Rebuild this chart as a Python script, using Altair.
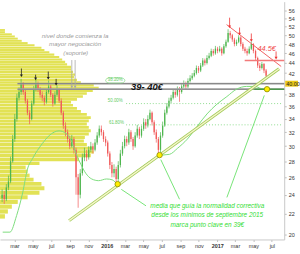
import altair as alt
import pandas as pd

# ---------------- data ----------------
week_start = "2015-01-19"
first_open = 23.6
closes = [24.0, 23.5, 24.8, 25.5, 28.0, 31.0, 34.0, 37.5, 38.5, 40.0,
          38.5, 37.0, 35.0, 34.0, 36.5, 39.0, 40.0, 39.0, 38.0, 37.5,
          36.8, 38.5, 39.5, 38.0, 36.5, 38.0, 39.0, 37.0, 35.0, 33.0,
          32.0, 31.0, 30.0, 31.0, 29.5, 26.0, 24.0, 26.5, 28.5, 29.0,
          28.5, 29.5, 30.0, 29.5, 30.5, 31.5, 32.5, 32.0, 31.0, 30.5,
          29.0, 27.5, 26.5, 27.0, 25.8, 27.5, 29.0, 30.0, 31.0, 30.5,
          32.0, 31.0, 30.0, 31.5, 32.5, 31.5, 32.5, 33.5, 33.0, 34.0,
          35.0, 33.5, 32.0, 31.0, 29.5, 31.5, 33.0, 35.0, 36.0, 37.0,
          37.5, 38.5, 38.0, 39.0, 38.5, 39.5, 40.0, 39.5, 40.5, 41.0,
          41.5, 42.0, 43.0, 42.5, 43.5, 44.5, 44.0, 45.0, 45.5, 46.5,
          46.0, 47.0, 46.5, 47.0, 46.0, 47.5, 48.5, 50.5, 50.0, 49.0,
          48.0, 48.5, 49.5, 48.0, 47.0, 46.5, 46.0, 47.0, 48.0, 46.5,
          45.0, 43.5, 43.0, 43.8, 42.5, 41.5]
highs = [24.6, 24.4, 25.2, 26.2, 28.6, 31.6, 34.8, 38.2, 39.3, 40.9,
         40.3, 38.9, 37.3, 35.4, 37.0, 39.6, 40.9, 40.4, 39.4, 38.6,
         37.9, 39.0, 40.6, 39.8, 38.3, 38.6, 39.7, 39.2, 37.4, 35.3,
         33.5, 32.4, 31.5, 31.6, 31.3, 29.8, 26.4, 27.0, 29.0, 29.8,
         29.5, 30.0, 30.6, 30.4, 31.0, 32.0, 33.0, 33.0, 32.3, 31.4,
         30.8, 29.3, 27.9, 27.6, 27.3, 28.0, 29.5, 30.6, 31.5, 31.4,
         32.5, 32.3, 31.3, 32.0, 33.1, 32.8, 33.0, 34.1, 34.0, 34.6,
         35.5, 35.2, 33.8, 32.4, 31.3, 32.0, 33.6, 35.5, 36.6, 37.5,
         38.0, 39.0, 38.9, 39.5, 39.4, 40.0, 40.6, 40.4, 41.0, 41.6,
         42.0, 42.6, 43.5, 43.4, 44.0, 45.0, 44.9, 45.6, 46.1, 47.0,
         46.9, 47.6, 47.4, 47.6, 47.3, 48.0, 49.0, 51.4, 51.0, 50.3,
         49.4, 49.0, 50.0, 49.8, 48.4, 47.4, 47.0, 47.5, 48.6, 48.2,
         46.8, 45.3, 44.0, 44.2, 44.0, 42.8]
lows = [23.2, 23.0, 23.3, 24.5, 25.3, 27.8, 30.6, 33.6, 37.0, 38.0,
        38.0, 36.5, 34.6, 33.2, 33.8, 36.2, 38.6, 38.5, 37.5, 36.9,
        36.2, 36.5, 38.2, 37.6, 36.0, 36.3, 37.7, 36.6, 34.6, 32.5,
        31.4, 30.5, 29.6, 29.8, 29.0, 24.0, 22.6, 23.6, 26.2, 28.0,
        28.0, 28.2, 29.2, 29.0, 29.3, 30.2, 31.2, 31.5, 30.6, 30.0,
        28.6, 27.0, 26.0, 26.0, 25.0, 25.5, 27.2, 28.7, 29.7, 30.0,
        30.2, 30.6, 29.5, 29.8, 31.2, 31.0, 31.2, 32.2, 32.5, 32.7,
        33.8, 33.0, 31.6, 30.5, 28.5, 29.2, 31.2, 32.8, 34.7, 35.7,
        36.6, 37.2, 37.5, 37.7, 36.8, 38.2, 39.2, 39.0, 39.2, 40.2,
        40.7, 41.2, 41.7, 42.0, 42.2, 43.2, 43.5, 43.7, 44.7, 45.2,
        45.5, 45.7, 46.0, 46.2, 45.5, 45.8, 47.2, 48.3, 49.3, 48.5,
        47.5, 47.6, 48.2, 47.5, 46.5, 46.0, 45.5, 45.8, 46.7, 46.0,
        44.5, 43.0, 42.4, 42.7, 42.0, 40.8]

# volume profile (price bin low edge, relative volume)
profile_price = [21.5, 22.0, 22.5, 23.0, 23.5, 24.0, 24.5, 25.0, 25.5, 26.0,
                 26.5, 27.0, 27.5, 28.0, 28.5, 29.0, 29.5, 30.0, 30.5, 31.0,
                 31.5, 32.0, 32.5, 33.0, 33.5, 34.0, 34.5, 35.0, 35.5, 36.0,
                 36.5, 37.0, 37.5, 38.0, 38.5, 39.0, 39.5, 40.0, 40.5, 41.0,
                 41.5, 42.0, 42.5, 43.0, 43.5, 44.0, 44.5, 45.0, 45.5, 46.0,
                 46.5, 47.0, 47.5, 48.0, 48.5, 49.0, 49.5, 50.0, 50.5, 51.0]
profile_vol = [5, 8, 12, 18, 28, 40, 45, 42, 34, 30,
               28, 26, 40, 80, 92, 95, 94, 88, 85, 86,
               90, 92, 90, 88, 90, 92, 88, 82, 78, 74,
               72, 78, 84, 88, 94, 100, 95, 82, 78, 75,
               76, 74, 72, 72, 68, 66, 63, 60, 55, 50,
               45, 42, 35, 28, 22, 18, 15, 12, 5, 5]

# moving average ("media")
ma_dates = ["2015-01-21", "2015-02-14", "2015-03-08", "2015-03-28", "2015-04-13",
            "2015-04-30", "2015-06-01", "2015-06-24", "2015-07-27", "2015-08-19",
            "2015-09-04", "2015-09-21", "2015-10-07", "2015-10-23", "2015-11-12",
            "2015-12-05", "2015-12-31", "2016-01-19", "2016-02-08", "2016-03-12",
            "2016-04-13", "2016-05-16", "2016-06-11", "2016-07-04", "2016-07-27",
            "2016-08-22", "2016-09-24", "2016-10-27", "2016-11-28", "2016-12-31",
            "2017-02-02", "2017-03-06", "2017-04-08", "2017-05-04", "2017-05-27",
            "2017-06-13"]
ma_values = [20.2, 20.2, 21.8, 24.2, 27.0, 28.35, 30.35, 31.5, 32.2, 31.8,
             30.9, 29.0, 27.6, 26.5, 25.8, 25.6, 25.8, 25.7, 25.2, 26.0,
             26.9, 27.8, 28.5, 28.8, 28.9, 29.7, 31.0, 32.9, 34.8, 36.4,
             37.7, 39.0, 39.5, 39.5, 39.1, 38.8]

y_ticks = [20, 22, 24, 26, 28, 30, 32, 34, 36, 38, 42, 44, 46, 48, 50, 52, 54, 56]
current_price = 40.0
fib_labels = ["38.20%", "50.00%", "61.80%"]
fib_dates = ["2016-01-29", "2016-01-29", "2016-02-02"]
fib_prices = [40.6, 36.9, 33.4]
fib_level_prices = [36.5, 33.1]

key_dates = ["2016-02-06", "2016-06-24", "2017-06-15"]
key_prices = [25.2, 28.8, 39.0]

# ---------------- helpers ----------------
X_SCALE = alt.Scale(domain=[alt.DateTime(year=2015, month=1, date=12),
                            alt.DateTime(year=2017, month=8, date=11)], nice=False)
Y_SCALE = alt.Scale(type="log", domain=[19.53, 58.35], nice=False, zero=False)
FONT = "Liberation Sans"

x_axis = alt.Axis(
    values=[alt.DateTime(year=y, month=m, date=1) for (y, m) in
            [(2015, 3), (2015, 5), (2015, 7), (2015, 9), (2015, 11), (2016, 1),
             (2016, 3), (2016, 5), (2016, 7), (2016, 9), (2016, 11), (2017, 1),
             (2017, 3), (2017, 5), (2017, 7)]],
    labelExpr="month(datum.value)==0 ? timeFormat(datum.value,'%Y') : lower(timeFormat(datum.value,'%b'))",
    labelFontWeight={"condition": {"test": "month(datum.value)==0", "value": "bold"}, "value": "normal"},
    labelFontSize=5.5, labelFont=FONT, labelColor="#333", tickSize=2,
    tickColor="#bbb", domainColor="#c8c8c8", labelPadding=2, grid=False, title=None)
y_axis = alt.Axis(orient="right", values=y_ticks, format="d", labelFontSize=5.5,
                  labelFont=FONT, labelColor="#333", tickSize=2, tickColor="#bbb",
                  domainColor="#c8c8c8", labelPadding=2, grid=False, title=None)


def X(field):
    return alt.X(field, type="temporal", scale=X_SCALE, axis=x_axis)


def Y(field):
    return alt.Y(field, type="quantitative", scale=Y_SCALE, axis=y_axis)


def segs(rows, **kw):
    df = pd.DataFrame(rows, columns=["d1", "p1", "d2", "p2"])
    df["d1"] = pd.to_datetime(df["d1"])
    df["d2"] = pd.to_datetime(df["d2"])
    return alt.Chart(df).mark_rule(**kw).encode(
        x=X("d1"), x2=alt.X2("d2"), y=Y("p1"), y2=alt.Y2("p2"))


def texts(rows, **kw):
    df = pd.DataFrame(rows, columns=["d", "p", "t"])
    df["d"] = pd.to_datetime(df["d"])
    return alt.Chart(df).mark_text(font=FONT, **kw).encode(
        x=X("d"), y=Y("p"), text="t:N")


def points(rows, **kw):
    df = pd.DataFrame(rows, columns=["d", "p"])
    df["d"] = pd.to_datetime(df["d"])
    return alt.Chart(df).mark_point(**kw).encode(x=X("d"), y=Y("p"))


# ---------------- tables ----------------
weeks = pd.date_range(week_start, periods=len(closes), freq="7D")
opens = [first_open] + closes[:-1]
candles = pd.DataFrame({"date": weeks, "open": opens, "close": closes,
                        "high": highs, "low": lows})
candles["dir"] = ["up" if c >= o else "down" for o, c in zip(opens, closes)]

profile_df = pd.DataFrame({"lo": profile_price, "vol": profile_vol})
profile_df["hi"] = profile_df["lo"] + 0.44
profile_df["base"] = 0

ma_df = pd.DataFrame({"date": pd.to_datetime(ma_dates), "ma": ma_values})

color = alt.Color("dir:N", scale=alt.Scale(domain=["up", "down"],
                                           range=["#4fb64f", "#f05858"]), legend=None)

# ---------------- layers ----------------
profile = alt.Chart(profile_df).mark_rect(color="#e0df46", opacity=0.92).encode(
    x=alt.X("base:Q", scale=alt.Scale(domain=[0, 288], nice=False), axis=None),
    x2=alt.X2("vol"),
    y=Y("lo"), y2=alt.Y2("hi"))

wick = alt.Chart(candles).mark_rule(strokeWidth=0.7).encode(
    x=X("date"), y=Y("low"), y2=alt.Y2("high"), color=color)
body = alt.Chart(candles).mark_bar(width=1.3).encode(
    x=X("date"), y=Y("open"), y2=alt.Y2("close"), color=color)

ma = alt.Chart(ma_df).mark_line(color="#7ddc7d", strokeWidth=1, interpolate="monotone").encode(
    x=X("date"), y=Y("ma"))

fib_lines = segs([["2016-03-05", p, "2017-08-01", p] for p in fib_level_prices],
                 color="#8fdc8f", strokeWidth=1, strokeDash=[1, 2])
gray_wide = segs([["2015-03-11", 40.0, "2017-08-11", 40.0],
                  ["2015-03-11", 39.0, "2017-08-11", 39.0]],
                 color="#b8b8b8", strokeWidth=1.7)
gray_thin = segs([["2015-03-11", 40.0, "2017-08-11", 40.0],
                  ["2015-03-11", 39.0, "2017-08-11", 39.0]],
                 color="#666666", strokeWidth=0.7)
green39 = segs([["2017-05-04", 39.0, "2017-08-11", 39.0]], color="#3a9a3a", strokeWidth=1.2)

trend_under = segs([["2015-08-29", 21.3, "2017-07-25", 42.85]], color="#a2cc58", strokeWidth=3.0)
trend_over = segs([["2015-08-29", 21.3, "2017-07-25", 42.85]], color="#f7f4cc", strokeWidth=1.3)

red_trend = segs([["2017-02-01", 52.5, "2017-08-01", 43.3]], color="#f06060", strokeWidth=1)
red_level = segs([["2017-04-02", 44.5, "2017-08-11", 44.5]], color="#f27a7a", strokeWidth=1.6)

red_arrows = segs([["2017-02-11", 54.2, "2017-02-11", 52.0],
                   ["2017-03-16", 51.8, "2017-03-16", 50.3],
                   ["2017-04-24", 50.4, "2017-04-24", 48.8],
                   ["2017-07-15", 46.4, "2017-07-15", 45.0]], color="#ee3333", strokeWidth=0.8)
red_heads = points([["2017-02-11", 52.0], ["2017-03-16", 50.3],
                    ["2017-04-24", 48.8], ["2017-07-15", 45.0]],
                   shape="triangle-down", filled=True, size=9, color="#ee3333", opacity=1)

black_arrows = segs([["2015-03-24", 42.9, "2015-03-24", 41.5],
                     ["2015-05-10", 41.7, "2015-05-10", 40.9],
                     ["2015-06-21", 42.3, "2015-06-21", 41.0],
                     ["2015-07-17", 40.9, "2015-07-17", 39.9]], color="#222222", strokeWidth=0.8)
black_heads = points([["2015-03-24", 41.5], ["2015-05-10", 40.9],
                      ["2015-06-21", 41.0], ["2015-07-17", 39.9]],
                     shape="triangle-down", filled=True, size=9, color="#222222", opacity=1)

gray_arrows = segs([["2015-09-07", 44.6, "2015-09-07", 39.3],
                    ["2015-09-18", 44.6, "2015-09-18", 39.3]], color="#a8a8a8", strokeWidth=0.8)
gray_heads = points([["2015-09-07", 39.4], ["2015-09-18", 39.4]],
                    shape="triangle-down", filled=True, size=8, color="#a8a8a8", opacity=1)

pointers = segs([["2016-05-10", 22.8, "2016-02-18", 24.6],
                 ["2016-08-29", 23.5, "2016-06-28", 28.2],
                 ["2017-02-02", 23.7, "2017-06-06", 37.9]], color="#55dd55", strokeWidth=0.8)

gray_text = texts([["2015-09-18", 49.8, "nivel donde comienza la"],
                   ["2015-09-18", 48.0, "mayor negociación"],
                   ["2015-09-20", 46.1, "(soporte)"]],
                  fontSize=6.3, fontStyle="italic", color="#9a9a9a")
green_text = texts([["2016-11-29", 22.8, "media que guía la normalidad correctiva"],
                    ["2016-11-29", 21.9, "desde los mínimos de septiembre 2015"],
                    ["2016-11-29", 20.9, "marca punto clave en 39€"]],
                   fontSize=6.5, fontStyle="italic", color="#33dd33")
zone_text = texts([["2016-05-13", 39.4, "39- 40€"]], fontSize=9.5, fontStyle="italic",
                  fontWeight="bold", color="#111111")
red_text = texts([["2017-06-14", 46.9, "44.5€"]], fontSize=7.5, fontStyle="italic", color="#f04848")

fib_df = pd.DataFrame({"d": pd.to_datetime(fib_dates), "p": fib_prices, "t": fib_labels})
fib_text = alt.Chart(fib_df).mark_text(font=FONT, fontSize=4.5, color="#66cc66").encode(
    x=X("d"), y=Y("p"), text="t:N")
fib_box = alt.Chart(fib_df.iloc[[0]]).mark_point(
    shape="M-0.6,-0.26 L0.6,-0.26 A0.4,0.26 0 0 1 0.6,0.26 L-0.6,0.26 A0.4,0.26 0 0 1 -0.6,-0.26 Z",
    size=380, filled=False, color="#8edc8e", strokeWidth=0.8, opacity=1).encode(
    x=X("d"), y=Y("p"))

key_df = pd.DataFrame({"d": pd.to_datetime(key_dates), "p": key_prices})
key_dots = alt.Chart(key_df).mark_point(shape="circle", filled=True, size=30,
                                        fill="#ffee00", stroke="#8a8a00",
                                        strokeWidth=0.8, opacity=1).encode(
    x=X("d"), y=Y("p"))

price_df = pd.DataFrame({"p": [current_price], "t": ["40.00"]})
price_box = alt.Chart(price_df).mark_rect(color="#ecc91a", yOffset=-3, y2Offset=3).encode(
    x=alt.value(289), x2=alt.value(302), y=Y("p"), y2=alt.Y2("p"))
price_lab = alt.Chart(price_df).mark_text(font=FONT, fontSize=5.5, align="left",
                                          color="#222222").encode(
    x=alt.value(290), y=Y("p"), text="t:N")

main = alt.layer(
    wick, body, fib_lines, gray_wide, gray_thin, ma, trend_under, trend_over,
    green39, red_trend, red_level,
    red_arrows, red_heads, black_arrows, black_heads, gray_arrows, gray_heads,
    pointers, gray_text, green_text, zone_text, red_text, fib_box, fib_text,
    key_dots, price_box, price_lab)

chart = alt.layer(profile, main).resolve_scale(x="independent").properties(
    width=288, height=241,
    padding={"left": 0, "right": 0, "top": 0, "bottom": 0},
    background="white",
).configure_view(strokeWidth=0).configure_scale(continuousPadding=0)

chart.save("out.html", embed_options={"renderer": "svg", "actions": False})
